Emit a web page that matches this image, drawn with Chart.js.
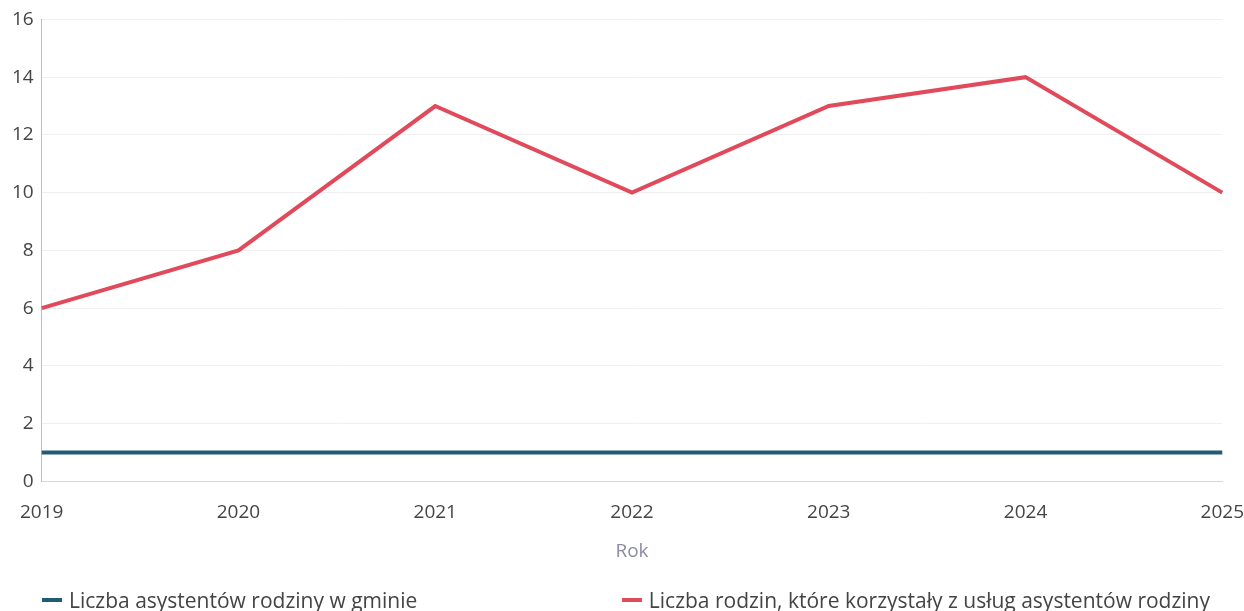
<!DOCTYPE html>
<html lang="pl">
<head>
<meta charset="utf-8">
<title>Asystenci rodziny</title>
<script src="https://cdn.jsdelivr.net/npm/chart.js@4"></script>
<style>
  html, body { margin: 0; padding: 0; background: #fff; }
  #wrap { position: relative; width: 1244px; height: 611px; }
  #legend {
    position: absolute; left: 0; right: 0; top: 586px;
    display: flex; justify-content: space-between;
    padding: 0 34px 0 42px;
    font: 21px "Open Sans", sans-serif; color: #444;
  }
  #legend span { display: flex; align-items: center; white-space: nowrap; }
  #legend i { display: inline-block; width: 20px; height: 4px; margin-right: 7px; }
</style>
</head>
<body>
<div id="wrap">
  <canvas id="lineChart"></canvas>
  <div id="legend"></div>
</div>
<script>
const years = ['2019', '2020', '2021', '2022', '2023', '2024', '2025'];
const asystenci = [1, 1, 1, 1, 1, 1, 1];
const rodziny = [6, 8, 13, 10, 13, 14, 10];
const yTicks = [0, 2, 4, 6, 8, 10, 12, 14, 16];

Chart.defaults.font.family = '"Open Sans", sans-serif';
Chart.defaults.color = '#444';

const ctx = document.getElementById('lineChart').getContext('2d');
const lineChart = new Chart(ctx, {
    type: 'line',
    data: {
        labels: years,
        datasets: [{
            label: 'Liczba asystentów rodziny w gminie',
            data: asystenci,
            borderColor: '#215b74',
            backgroundColor: '#215b74',
            borderWidth: 4,
            pointRadius: 0,
            tension: 0
        }, {
            label: 'Liczba rodzin, które korzystały z usług asystentów rodziny',
            data: rodziny,
            borderColor: '#e14a5b',
            backgroundColor: '#e14a5b',
            borderWidth: 4,
            pointRadius: 0,
            tension: 0
        }]
    },
    options: {
        responsive: true,
        maintainAspectRatio: false,
        animation: false,
        layout: {
            padding: { left: 4, right: 0, top: 8, bottom: 48 }
        },
        plugins: {
            tooltip: { enabled: false },
            legend: { display: false }
        },
        scales: {
            x: {
                offset: false,
                // invisible tick marks only make room under the axis
                grid: {
                    display: true,
                    drawOnChartArea: false,
                    tickLength: 20,
                    tickColor: 'transparent'
                },
                border: { color: '#d6d6d6', width: 1 },
                ticks: {
                    padding: 0,
                    maxRotation: 0,
                    font: { size: 19 }
                },
                title: {
                    display: true,
                    text: 'Rok',
                    color: '#8c8ca3',
                    font: { size: 19 },
                    padding: { top: 16, bottom: 0 }
                }
            },
            y: {
                min: 0,
                max: 16,
                afterBuildTicks: axis => {
                    axis.ticks = yTicks.map(v => ({ value: v }));
                },
                grid: { color: '#f0f0f0', drawTicks: false },
                border: { color: '#bdbdbd', width: 1 },
                ticks: {
                    padding: 8,
                    autoSkip: false,
                    font: { size: 19 }
                }
            }
        }
    }
});

// legend under the chart, one entry per dataset
const legend = document.getElementById('legend');
lineChart.data.datasets.forEach(ds => {
    const item = document.createElement('span');
    const dash = document.createElement('i');
    dash.style.background = ds.borderColor;
    item.appendChild(dash);
    item.appendChild(document.createTextNode(ds.label));
    legend.appendChild(item);
});
</script>
</body>
</html>
